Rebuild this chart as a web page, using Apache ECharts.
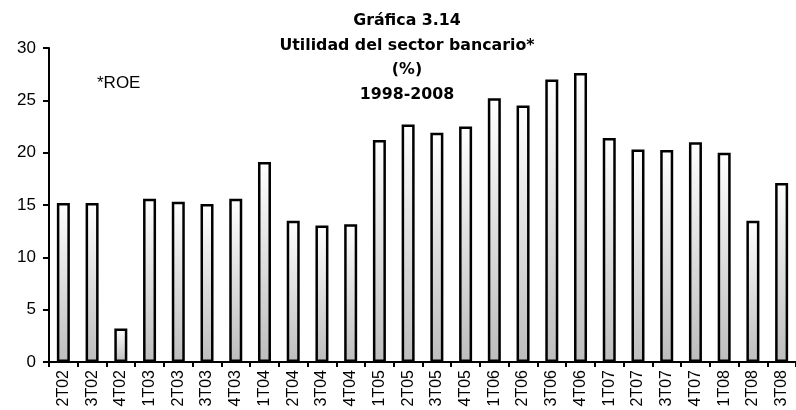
<!DOCTYPE html>
<html>
<head>
<meta charset="utf-8">
<script src="https://cdn.jsdelivr.net/npm/echarts@6/dist/echarts.min.js"></script>
<style>
html,body{margin:0;padding:0;background:#fff;}
#chart{width:796px;height:410px;}
</style>
</head>
<body>
<div id="chart"></div>
<script>
const categories = ["2T02","3T02","4T02","1T03","2T03","3T03","4T03","1T04","2T04","3T04","4T04","1T05","2T05","3T05","4T05","1T06","2T06","3T06","4T06","1T07","2T07","3T07","4T07","1T08","2T08","3T08"];
const roe = [15.2,15.2,3.2,15.6,15.3,15.1,15.6,19.1,13.5,13.05,13.15,21.2,22.7,21.9,22.5,25.2,24.5,27.0,27.6,21.4,20.3,20.25,21.0,20.0,13.5,17.1];
const yTicks = {min:0, max:30, interval:5};
const titleLines = ["Gráfica 3.14","Utilidad del sector bancario*","(%)","1998-2008"];
const noteText = "*ROE";

const chart = echarts.init(document.getElementById('chart'), null, {renderer:'canvas'});
chart.setOption({
  animation:false,
  backgroundColor:'#fff',
  title:{
    text: titleLines.join('\n'),
    left: 402, top: 4, textAlign:'center',
    textStyle:{fontFamily:'DejaVu Sans', fontWeight:'bold', fontSize:15.8, lineHeight:24.5, color:'#000'}
  },
  graphic:[{
    type:'text', left:97, top:75,
    style:{text:noteText, fontFamily:'Liberation Sans', fontSize:17, fill:'#000'}
  }],
  grid:{left:49, top:48, width:754, height:314, containLabel:false},
  xAxis:{
    type:'category', data:categories, boundaryGap:true,
    axisLine:{lineStyle:{color:'#000', width:2}},
    axisTick:{show:true, length:5, lineStyle:{color:'#000', width:2}},
    axisLabel:{rotate:90, interval:0, fontFamily:'Liberation Sans', fontSize:16, color:'#000', margin:8}
  },
  yAxis:{
    type:'value', min:yTicks.min, max:yTicks.max, interval:yTicks.interval,
    splitLine:{show:false},
    axisLine:{show:true, lineStyle:{color:'#000', width:2}},
    axisTick:{show:true, length:6, lineStyle:{color:'#000', width:2}},
    axisLabel:{fontFamily:'Liberation Sans', fontSize:17, color:'#000', margin:13}
  },
  series:[{
    type:'bar', data:roe, barWidth:13,
    itemStyle:{
      borderColor:'#000', borderWidth:2.5,
      color:new echarts.graphic.LinearGradient(0,0,0,1,[{offset:0,color:'#ffffff'},{offset:1,color:'#bdbdbd'}])
    }
  }]
});
</script>
</body>
</html>
